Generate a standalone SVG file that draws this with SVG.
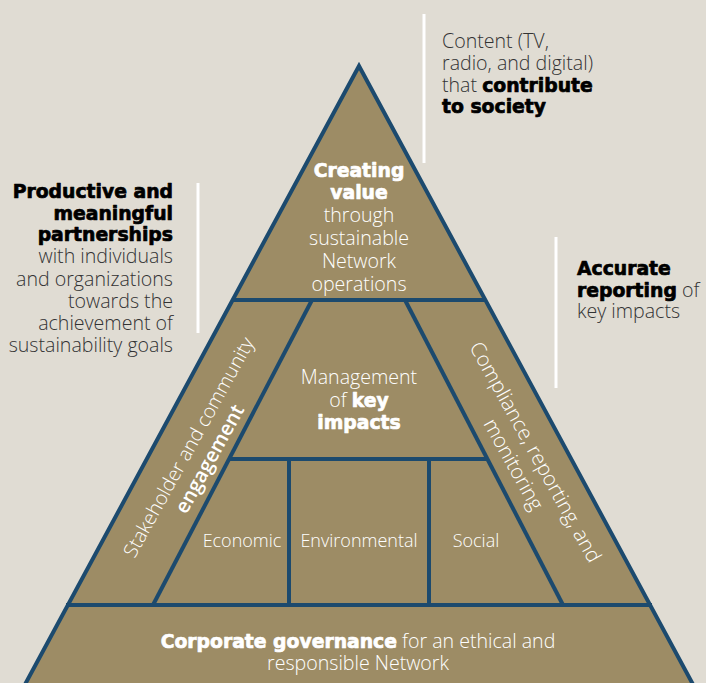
<svg xmlns="http://www.w3.org/2000/svg" width="706" height="683" viewBox="0 0 706 683">
<style>
.bg{fill:#e0dcd3}
.shape{fill:#9d8c65;stroke:#1c4a6e;stroke-width:4;stroke-linejoin:miter}
.ln{stroke:#1c4a6e;stroke-width:4;fill:none}
.wl{stroke:#ffffff;stroke-width:3}
text{font-family:"Open Sans","Noto Sans","Liberation Sans",sans-serif;font-size:19.6px;font-weight:300}
.dk{fill:#333333}
.wt{fill:#ffffff}
.b{font-family:"DejaVu Sans","Liberation Sans",sans-serif;font-weight:bold;font-size:18.8px;stroke-width:0.7px;stroke-linejoin:round}
.dk .b{fill:#000000;stroke:#000000}
.wt .b{stroke:#ffffff}
.s18{font-size:18px}
.semi{font-weight:600;font-size:20px}
</style>
<rect class="bg" x="0" y="0" width="706" height="683"/>
<g id="white-lines">
<line class="wl" x1="424" y1="14" x2="424" y2="163"/>
<line class="wl" x1="198" y1="183" x2="198" y2="333"/>
<line class="wl" x1="556" y1="237" x2="556" y2="388"/>
</g>
<g id="pyramid">
<polygon class="shape" points="359,66 22,690 696,690"/>
</g>
<g id="connectors">
<line class="ln" x1="233" y1="300" x2="485" y2="300"/>
<line class="ln" x1="312" y1="300" x2="153" y2="605"/>
<line class="ln" x1="405" y1="300" x2="563" y2="605"/>
<line class="ln" x1="229" y1="459" x2="488" y2="459"/>
<line class="ln" x1="289" y1="459" x2="289" y2="605"/>
<line class="ln" x1="429" y1="459" x2="429" y2="605"/>
<line class="ln" x1="66" y1="605" x2="652" y2="605"/>
</g>
<g id="top-note" class="dk">
<text x="442" y="48">Content (TV,</text>
<text x="442" y="70">radio, and digital)</text>
<text x="442" y="92">that <tspan class="b">contribute</tspan></text>
<text x="442" y="113" class="b">to society</text>
</g>
<g id="left-note" class="dk" text-anchor="end">
<text x="173" y="198" class="b">Productive and</text>
<text x="173" y="220" class="b">meaningful</text>
<text x="173" y="241" class="b">partnerships</text>
<text x="173" y="263">with individuals</text>
<text x="173" y="286">and organizations</text>
<text x="173" y="308">towards the</text>
<text x="173" y="330">achievement of</text>
<text x="173" y="352">sustainability goals</text>
</g>
<g id="right-note" class="dk">
<text x="577" y="275" class="b">Accurate</text>
<text x="577" y="297"><tspan class="b">reporting</tspan> of</text>
<text x="577" y="318">key impacts</text>
</g>
<g id="creating-value" class="wt" text-anchor="middle">
<text x="359" y="177" class="b">Creating</text>
<text x="359" y="199" class="b">value</text>
<text x="359" y="222">through</text>
<text x="359" y="245">sustainable</text>
<text x="359" y="268">Network</text>
<text x="359" y="291">operations</text>
</g>
<g id="management" class="wt" text-anchor="middle">
<text x="359" y="384">Management</text>
<text x="359" y="407">of <tspan class="b">key</tspan></text>
<text x="359" y="429" class="b">impacts</text>
</g>
<g id="stakeholder" class="wt" text-anchor="middle" transform="translate(199,453) rotate(-61)">
<text x="0" y="-5">Stakeholder and community</text>
<text x="0" y="19" class="semi">engagement</text>
</g>
<g id="compliance" class="wt" text-anchor="middle" transform="translate(525,458) rotate(61)">
<text x="0" y="-5" style="font-size:20.5px">Compliance, reporting, and</text>
<text x="0" y="20" style="font-size:20.5px">monitoring</text>
</g>
<g id="economic" class="wt" text-anchor="middle"><text x="242" y="547" class="s18">Economic</text></g>
<g id="environmental" class="wt" text-anchor="middle"><text x="359" y="547" class="s18">Environmental</text></g>
<g id="social" class="wt" text-anchor="middle"><text x="476" y="547" class="s18">Social</text></g>
<g id="governance" class="wt" text-anchor="middle">
<text x="358" y="648"><tspan class="b">Corporate governance</tspan> for an ethical and</text>
<text x="358" y="670">responsible Network</text>
</g>
</svg>
